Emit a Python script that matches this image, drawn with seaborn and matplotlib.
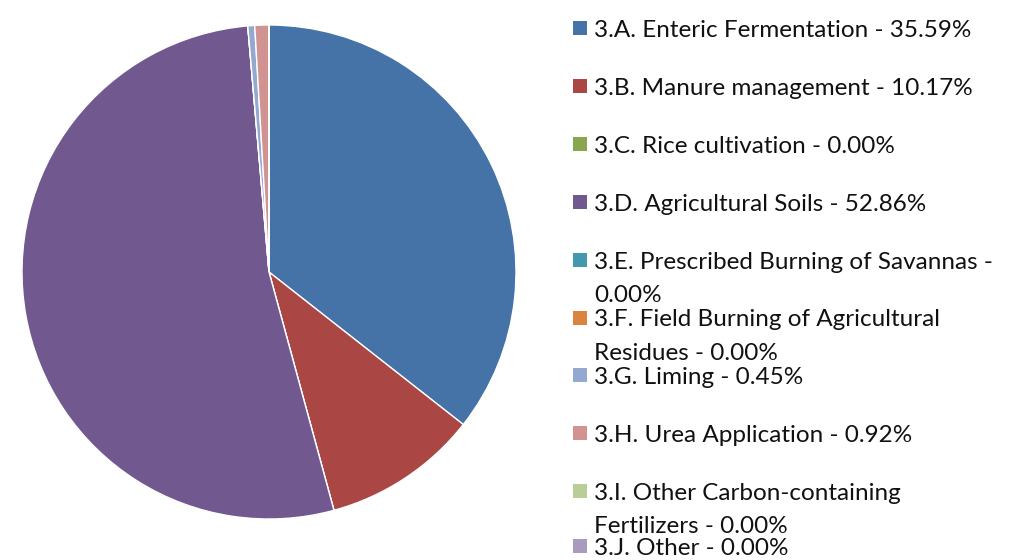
import matplotlib
matplotlib.use("Agg")
import matplotlib.pyplot as plt
import seaborn as sns
from matplotlib.patches import Rectangle

categories = [
    "3.A. Enteric Fermentation",
    "3.B. Manure management",
    "3.C. Rice cultivation",
    "3.D. Agricultural Soils",
    "3.E. Prescribed Burning of Savannas",
    "3.F. Field Burning of Agricultural Residues",
    "3.G. Liming",
    "3.H. Urea Application",
    "3.I. Other Carbon-containing Fertilizers",
    "3.J. Other",
]
shares = [35.59, 10.17, 0.00, 52.86, 0.00, 0.00, 0.45, 0.92, 0.00, 0.00]
legend_labels = [
    "3.A. Enteric Fermentation - 35.59%",
    "3.B. Manure management - 10.17%",
    "3.C. Rice cultivation - 0.00%",
    "3.D. Agricultural Soils - 52.86%",
    "3.E. Prescribed Burning of Savannas -\n0.00%",
    "3.F. Field Burning of Agricultural\nResidues - 0.00%",
    "3.G. Liming - 0.45%",
    "3.H. Urea Application - 0.92%",
    "3.I. Other Carbon-containing\nFertilizers - 0.00%",
    "3.J. Other - 0.00%",
]
colors = ["#4572A7", "#AA4643", "#89A54E", "#71588F", "#4198AF",
          "#DB843D", "#93A9CF", "#D19392", "#B9CD96", "#A99BBD"]

sns.set_theme(style="white")
plt.rcParams["font.family"] = ["Lato", "DejaVu Sans"]

W, H = 1015, 560
fig = plt.figure(figsize=(W / 100, H / 100), dpi=100)
fig.patch.set_facecolor("white")

cx, cy, r = 269, 272, 247
ax = fig.add_axes([(cx - r) / W, (H - cy - r) / H, 2 * r / W, 2 * r / H])
ax.pie(shares, colors=colors, startangle=90, counterclock=False, radius=1,
       wedgeprops=dict(edgecolor="white", linewidth=1.0))
ax.set_xlim(-1, 1)
ax.set_ylim(-1, 1)
ax.set_aspect("equal")
ax.axis("off")

sq = 14
x_sq = 573
x_txt = 594
y0 = 28
step = 57.9
fs = 17.5
line_gap = 33
for i, (lab, col) in enumerate(zip(legend_labels, colors)):
    yc = min(y0 + step * i, 546)
    fig.patches.append(Rectangle((x_sq / W, (H - yc - sq / 2) / H), sq / W, sq / H,
                                 transform=fig.transFigure, facecolor=col,
                                 edgecolor="none"))
    for j, line in enumerate(lab.split("\n")):
        yb = yc + 9 + j * line_gap
        fig.text(x_txt / W, (H - yb) / H, line, fontsize=fs,
                 va="baseline", ha="left", color="#111111")

fig.savefig("out.png", dpi=100, facecolor="white")
